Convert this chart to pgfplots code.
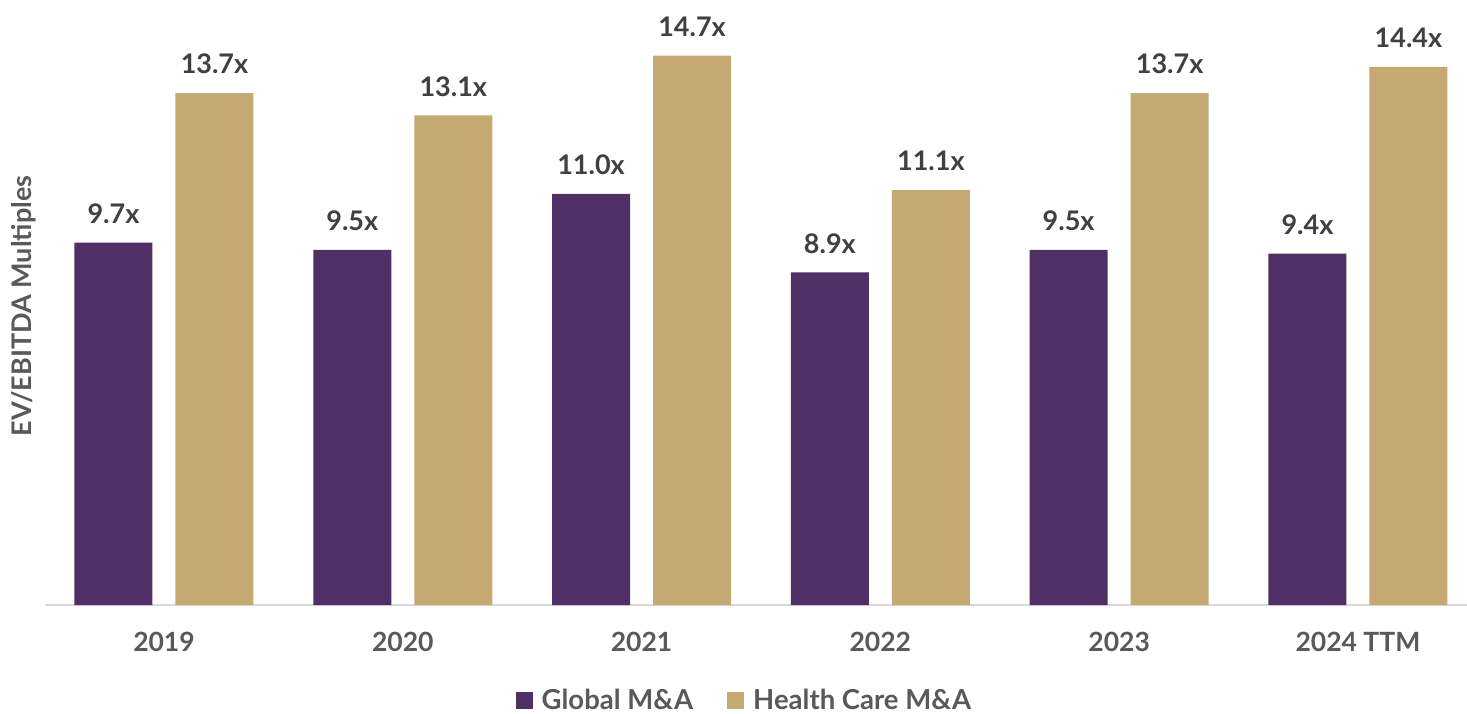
\documentclass[border=0pt]{standalone}
\usepackage{pgfplots}
\pgfplotsset{compat=1.18}
\usepackage{fontspec}
\setmainfont{Lato}
\definecolor{cGlobal}{RGB}{80,47,103}
\definecolor{cHealth}{RGB}{197,169,115}
\definecolor{cLabel}{RGB}{64,64,64}
\definecolor{cTick}{RGB}{89,89,89}
\definecolor{cAxis}{RGB}{217,217,217}
\begin{document}
\begin{tikzpicture}[x=1pt,y=1pt]
\useasboundingbox (0,0) rectangle (1467,713);
\begin{axis}[
  at={(44.6pt,108pt)}, anchor=south west,
  scale only axis, width=1422.4pt, height=605pt,
  xmin=-0.5, xmax=5.457, ymin=0, ymax=16.19,
  axis x line=bottom, axis y line=none,
  x axis line style={draw=cAxis, line width=2pt, -},
  xtick={0,1,2,3,4,5},
  xticklabels={2019,2020,2021,2022,2023,2024 TTM},
  major tick length=0pt,
  xticklabel style={font=\fontsize{26.5}{30}\selectfont\bfseries, text=cTick,
    anchor=north, inner sep=0pt, yshift=-27pt},
  ybar, bar width=78pt,
  /pgf/number format/assume math mode=true,
  nodes near coords={\pgfmathprintnumber[fixed,fixed zerofill,precision=1,assume math mode=true]{\pgfplotspointmeta}x},
  every node near coord/.append style={font=\fontsize{27}{30}\selectfont\bfseries,
    text=cLabel, anchor=south, inner sep=0pt, yshift=19pt},
  legend style={at={(0.492,-0.157)}, anchor=center, draw=none, fill=none,
    legend columns=-1, font=\fontsize{27.5}{30}\selectfont\bfseries, text=cTick,
    /tikz/every odd column/.append style={column sep=7pt},
    /tikz/every even column/.append style={column sep=32pt}},
  legend image code/.code={\fill[#1] (0pt,-9pt) rectangle (17pt,8pt);},
  clip=false,
]
\addplot[fill=cGlobal, draw=none, bar shift=-50.5pt] coordinates
  {(0,9.7) (1,9.5) (2,11.0) (3,8.9) (4,9.5) (5,9.4)};
\addplot[fill=cHealth, draw=none, bar shift=50.5pt] coordinates
  {(0,13.7) (1,13.1) (2,14.7) (3,11.1) (4,13.7) (5,14.4)};
\legend{Global M\&A, Health Care M\&A}
\end{axis}
\node[rotate=90, font=\fontsize{27}{30}\selectfont\bfseries, text=cTick] at (24,407) {EV/EBITDA Multiples};
\end{tikzpicture}
\end{document}
